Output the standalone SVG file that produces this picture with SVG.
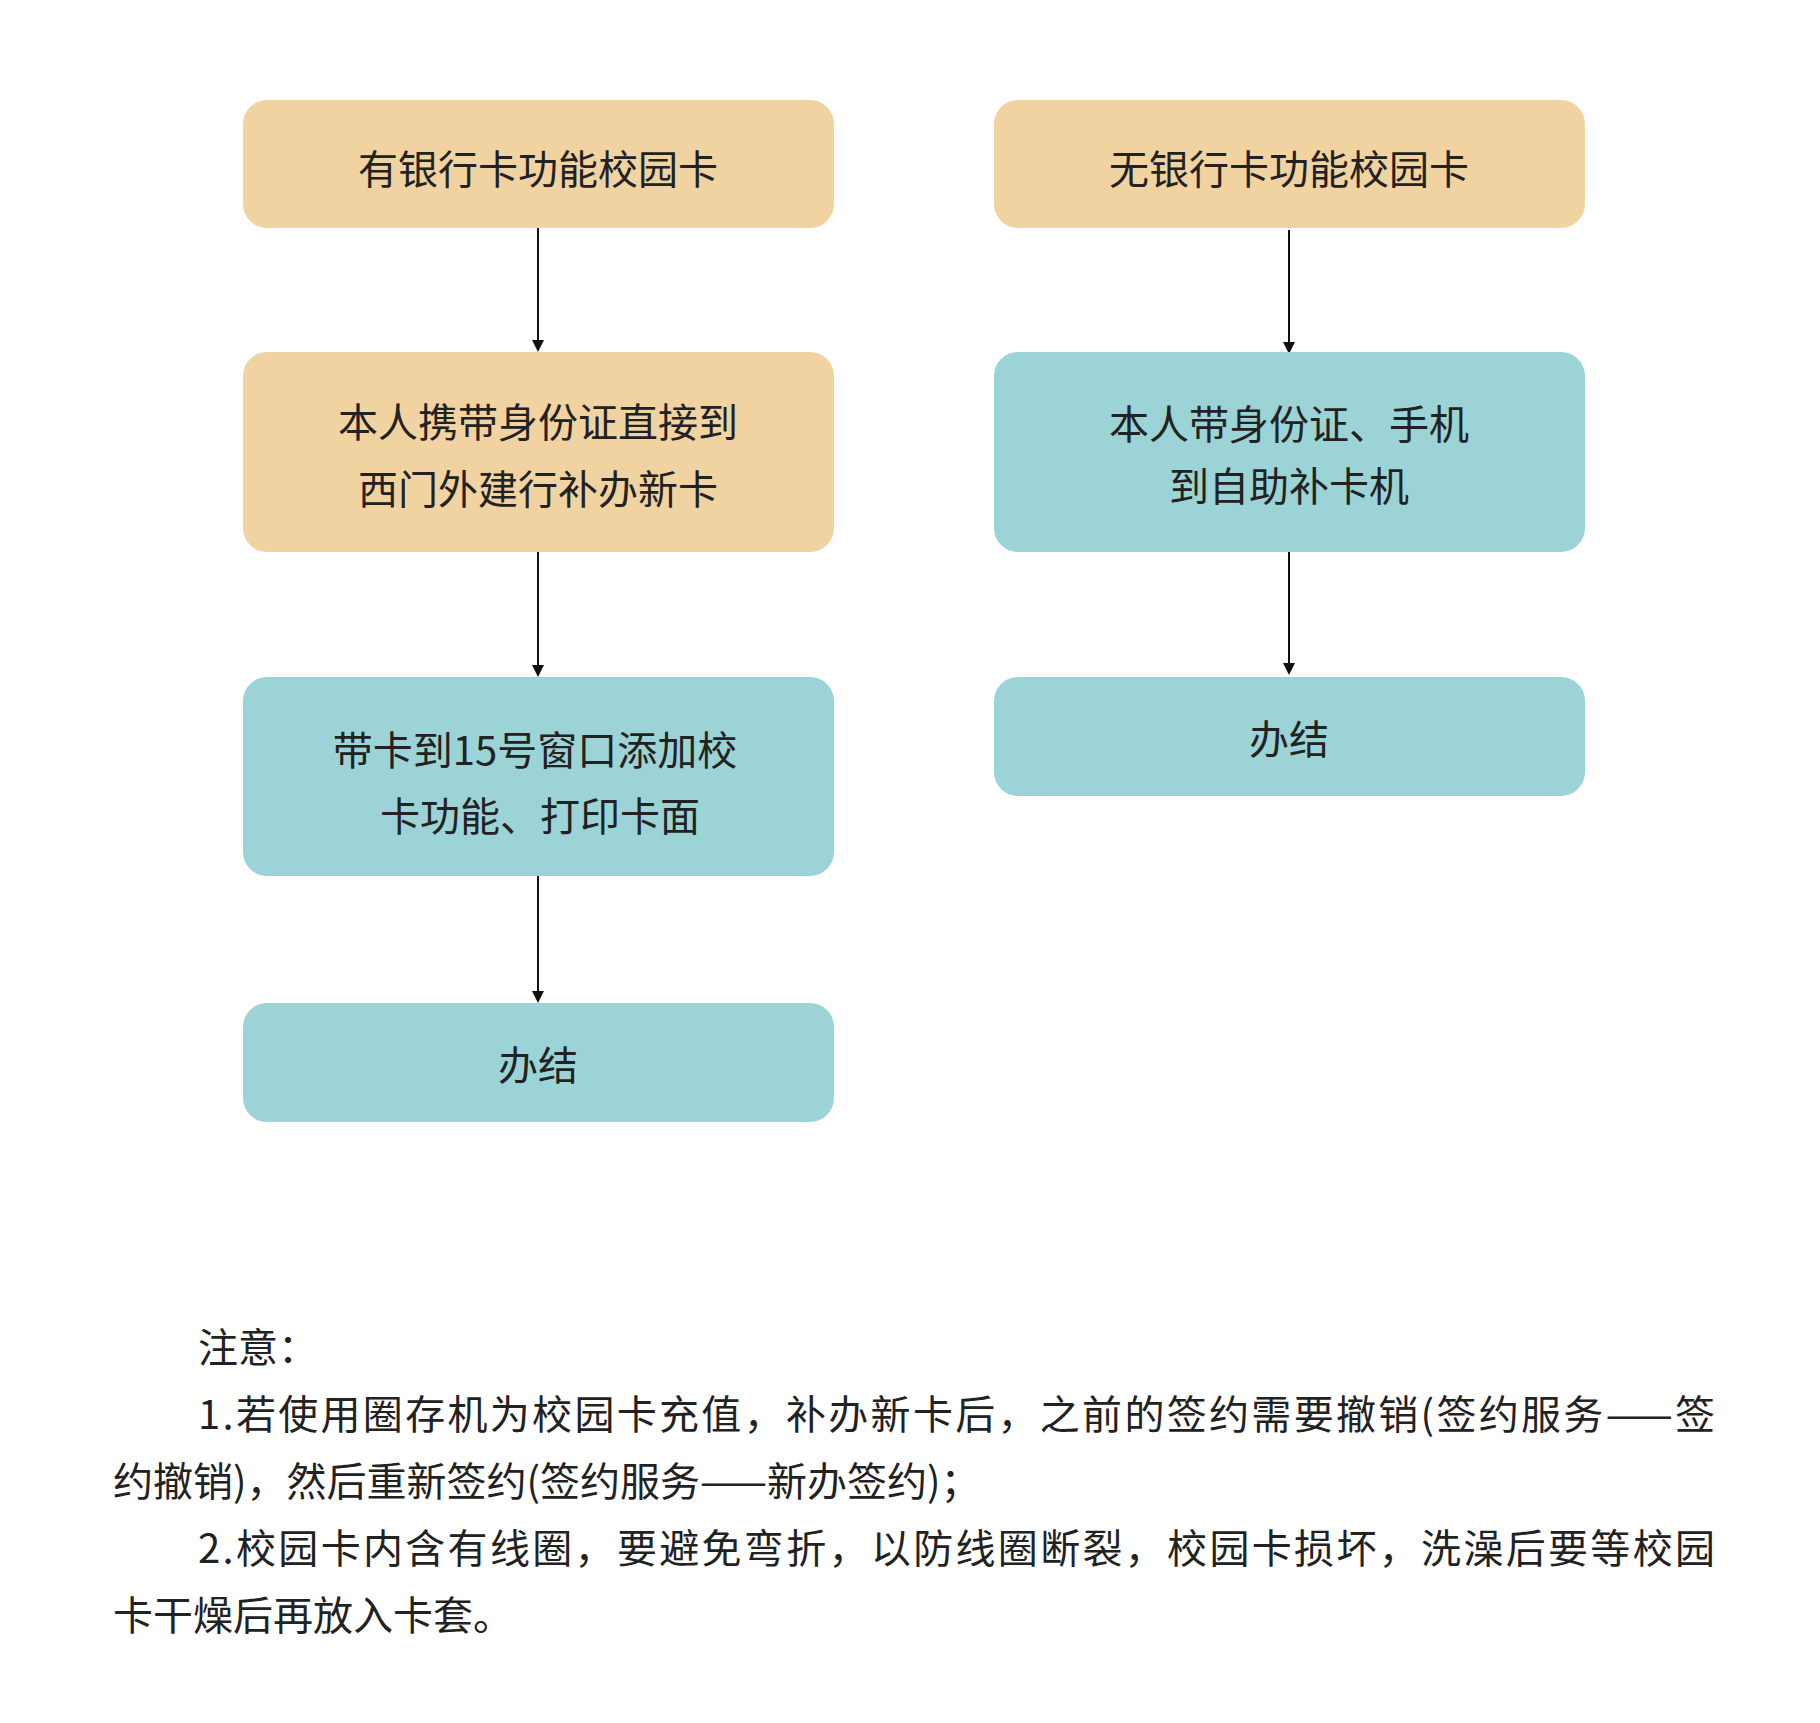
<svg xmlns="http://www.w3.org/2000/svg" width="1820" height="1723" viewBox="0 0 1820 1723">
<style>
.o{fill:#f1d3a1}.t{fill:#9bd3d6}
text{font-family:"Noto Sans CJK SC","Noto Sans",sans-serif;font-size:40px;fill:#222;dominant-baseline:central}
.c{text-anchor:middle}
.l{stroke:#111;stroke-width:2;fill:none}
</style>
<defs><marker id="a" markerWidth="12" markerHeight="12" refX="10" refY="6" orient="auto" markerUnits="userSpaceOnUse"><path d="M0,0L12,6L0,12z" fill="#111"/></marker></defs>
<rect width="1820" height="1723" fill="#fff"/>
<g id="connectors">
<line class="l" x1="538" y1="228" x2="538" y2="350" marker-end="url(#a)"/>
<line class="l" x1="538" y1="552" x2="538" y2="675" marker-end="url(#a)"/>
<line class="l" x1="538" y1="876" x2="538" y2="1001" marker-end="url(#a)"/>
<line class="l" x1="1289" y1="230" x2="1289" y2="352" marker-end="url(#a)"/>
<line class="l" x1="1289" y1="552" x2="1289" y2="673" marker-end="url(#a)"/>
</g>
<g id="n1"><rect class="o" x="243" y="100" width="591" height="128" rx="24"/><text class="c" x="538" y="167">有银行卡功能校园卡</text></g>
<g id="n2"><rect class="o" x="243" y="352" width="591" height="200" rx="24"/><text class="c" x="538" y="420">本人携带身份证直接到</text><text class="c" x="538" y="487">西门外建行补办新卡</text></g>
<g id="n3"><rect class="t" x="243" y="677" width="591" height="199" rx="24"/><text class="c" x="535" y="748">带卡到15号窗口添加校</text><text class="c" x="540" y="814">卡功能、打印卡面</text></g>
<g id="n4"><rect class="t" x="243" y="1003" width="591" height="119" rx="24"/><text class="c" x="538" y="1063">办结</text></g>
<g id="r1"><rect class="o" x="994" y="100" width="591" height="128" rx="24"/><text class="c" x="1289" y="167">无银行卡功能校园卡</text></g>
<g id="r2"><rect class="t" x="994" y="352" width="591" height="200" rx="24"/><text class="c" x="1289" y="422">本人带身份证、手机</text><text class="c" x="1289" y="484">到自助补卡机</text></g>
<g id="r3"><rect class="t" x="994" y="677" width="591" height="119" rx="24"/><text class="c" x="1289" y="737">办结</text></g>
<g id="notes">
<text x="198" y="1345">注意：</text>
<text x="198" y="1412" textLength="1517" lengthAdjust="spacing">1.若使用圈存机为校园卡充值，补办新卡后，之前的签约需要撤销(签约服务——签</text>
<text x="113" y="1479">约撤销)，然后重新签约(签约服务——新办签约)；</text>
<text x="198" y="1546" textLength="1517" lengthAdjust="spacing">2.校园卡内含有线圈，要避免弯折，以防线圈断裂，校园卡损坏，洗澡后要等校园</text>
<text x="113" y="1613">卡干燥后再放入卡套。</text>
</g>
</svg>
